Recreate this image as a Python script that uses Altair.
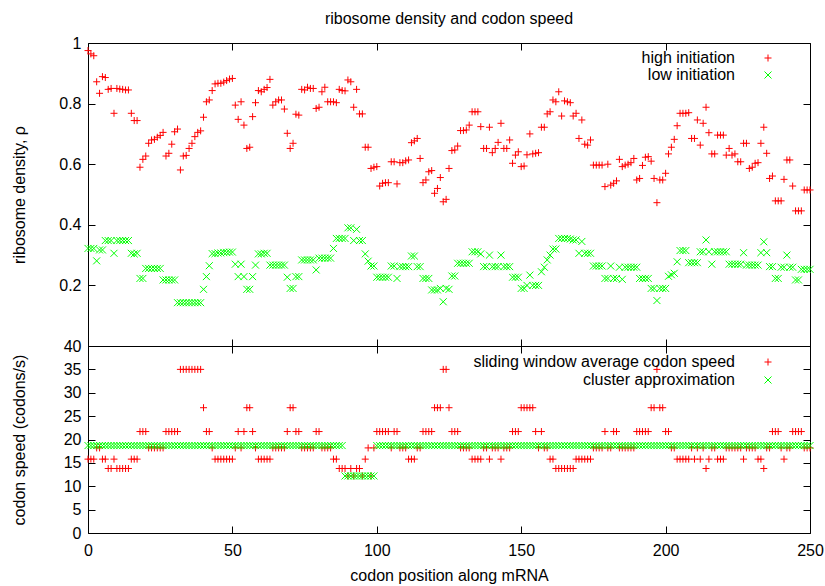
import altair as alt
import pandas as pd

FONT = "Liberation Sans"

# codon positions along the mRNA
codon = list(range(251))

# top panel: ribosome density
high_initiation = [
    0.975, 0.964, 0.958, 0.872, 0.834, 0.889, 0.886, 0.847, 0.850, 0.768,
    0.850, 0.848, 0.847, 0.845, 0.845, 0.768, 0.744, 0.744, 0.590, 0.616,
    0.627, 0.669, 0.680, 0.682, 0.689, 0.695, 0.705, 0.627, 0.636, 0.666,
    0.707, 0.716, 0.581, 0.627, 0.629, 0.652, 0.669, 0.691, 0.705, 0.710,
    0.755, 0.806, 0.812, 0.843, 0.865, 0.867, 0.867, 0.871, 0.876, 0.881,
    0.883, 0.795, 0.748, 0.806, 0.729, 0.652, 0.656, 0.757, 0.803, 0.843,
    0.839, 0.847, 0.853, 0.880, 0.795, 0.806, 0.812, 0.812, 0.782, 0.702,
    0.652, 0.669, 0.765, 0.762, 0.847, 0.845, 0.854, 0.850, 0.850, 0.784,
    0.788, 0.839, 0.854, 0.806, 0.806, 0.806, 0.803, 0.847, 0.843, 0.842,
    0.878, 0.872, 0.788, 0.847, 0.766, 0.766, 0.656, 0.656, 0.586, 0.590,
    0.592, 0.528, 0.537, 0.539, 0.539, 0.608, 0.608, 0.535, 0.605, 0.605,
    0.611, 0.614, 0.671, 0.677, 0.685, 0.619, 0.539, 0.548, 0.575, 0.579,
    0.504, 0.520, 0.556, 0.476, 0.484, 0.586, 0.645, 0.647, 0.660, 0.711,
    0.711, 0.713, 0.729, 0.773, 0.773, 0.773, 0.724, 0.652, 0.652, 0.722,
    0.638, 0.652, 0.672, 0.735, 0.652, 0.652, 0.680, 0.603, 0.630, 0.641,
    0.592, 0.594, 0.631, 0.700, 0.634, 0.636, 0.638, 0.722, 0.722, 0.766,
    0.773, 0.812, 0.806, 0.839, 0.759, 0.809, 0.806, 0.803, 0.759, 0.768,
    0.685, 0.746, 0.666, 0.663, 0.680, 0.597, 0.597, 0.597, 0.597, 0.526,
    0.600, 0.531, 0.537, 0.545, 0.616, 0.592, 0.597, 0.600, 0.605, 0.619,
    0.548, 0.553, 0.596, 0.623, 0.625, 0.610, 0.553, 0.473, 0.548, 0.548,
    0.570, 0.634, 0.656, 0.682, 0.727, 0.768, 0.768, 0.768, 0.770, 0.685,
    0.685, 0.746, 0.663, 0.735, 0.788, 0.704, 0.634, 0.634, 0.696, 0.696,
    0.696, 0.630, 0.652, 0.630, 0.634, 0.608, 0.608, 0.669, 0.669, 0.586,
    0.590, 0.603, 0.605, 0.669, 0.722, 0.636, 0.553, 0.561, 0.479, 0.479,
    0.479, 0.550, 0.614, 0.614, 0.528, 0.446, 0.446, 0.446, 0.515, 0.515,
    0.515,
]

low_initiation = [
    0.322, 0.322, 0.322, 0.281, 0.317, 0.317, 0.348, 0.348, 0.348, 0.306,
    0.348, 0.348, 0.348, 0.348, 0.348, 0.306, 0.304, 0.306, 0.223, 0.223,
    0.256, 0.256, 0.256, 0.256, 0.256, 0.256, 0.218, 0.218, 0.218, 0.218,
    0.218, 0.143, 0.143, 0.143, 0.143, 0.143, 0.143, 0.143, 0.143, 0.143,
    0.187, 0.229, 0.265, 0.305, 0.305, 0.307, 0.307, 0.309, 0.309, 0.310,
    0.310, 0.270, 0.229, 0.270, 0.229, 0.187, 0.187, 0.229, 0.267, 0.304,
    0.304, 0.306, 0.306, 0.267, 0.267, 0.267, 0.267, 0.267, 0.267, 0.227,
    0.190, 0.190, 0.229, 0.229, 0.284, 0.284, 0.284, 0.284, 0.284, 0.251,
    0.290, 0.290, 0.290, 0.290, 0.290, 0.322, 0.355, 0.355, 0.355, 0.355,
    0.390, 0.390, 0.348, 0.385, 0.348, 0.348, 0.304, 0.280, 0.264, 0.264,
    0.227, 0.227, 0.227, 0.227, 0.227, 0.264, 0.264, 0.223, 0.262, 0.262,
    0.262, 0.262, 0.297, 0.297, 0.262, 0.262, 0.223, 0.223, 0.223, 0.185,
    0.185, 0.185, 0.190, 0.146, 0.190, 0.187, 0.231, 0.231, 0.273, 0.273,
    0.273, 0.273, 0.273, 0.311, 0.311, 0.311, 0.304, 0.262, 0.262, 0.300,
    0.262, 0.262, 0.262, 0.300, 0.262, 0.262, 0.262, 0.227, 0.227, 0.227,
    0.190, 0.190, 0.200, 0.234, 0.200, 0.200, 0.200, 0.245, 0.260, 0.284,
    0.300, 0.320, 0.320, 0.355, 0.355, 0.355, 0.355, 0.353, 0.350, 0.350,
    0.306, 0.345, 0.306, 0.306, 0.306, 0.264, 0.264, 0.264, 0.264, 0.223,
    0.223, 0.264, 0.223, 0.223, 0.260, 0.220, 0.260, 0.260, 0.260, 0.260,
    0.260, 0.223, 0.223, 0.223, 0.223, 0.190, 0.190, 0.150, 0.190, 0.190,
    0.190, 0.230, 0.235, 0.240, 0.278, 0.315, 0.315, 0.315, 0.275, 0.275,
    0.275, 0.275, 0.311, 0.311, 0.350, 0.311, 0.270, 0.311, 0.311, 0.311,
    0.311, 0.311, 0.270, 0.270, 0.270, 0.270, 0.270, 0.308, 0.267, 0.267,
    0.267, 0.267, 0.267, 0.308, 0.344, 0.308, 0.262, 0.262, 0.223, 0.223,
    0.260, 0.260, 0.300, 0.260, 0.260, 0.218, 0.218, 0.253, 0.253, 0.253,
    0.253,
]

# bottom panel: codon speed (codons/s)
sliding_speed = [
    15.8, 15.8, 15.8, 18.2, 18.2, 15.8, 15.8, 13.8, 13.8, 15.8,
    13.8, 13.8, 13.8, 13.8, 13.8, 15.8, 15.8, 15.8, 21.7, 21.7,
    21.7, 18.2, 18.2, 18.2, 18.2, 18.2, 18.2, 21.7, 21.7, 21.7,
    21.7, 21.7, 35.0, 35.0, 35.0, 35.0, 35.0, 35.0, 35.0, 35.0,
    26.8, 21.7, 21.7, 18.2, 15.8, 15.8, 15.8, 15.8, 15.8, 15.8,
    15.8, 18.2, 21.7, 18.2, 21.7, 26.8, 26.8, 21.7, 18.2, 15.8,
    15.8, 15.8, 15.8, 15.8, 18.2, 18.2, 18.2, 18.2, 18.2, 21.7,
    26.8, 26.8, 21.7, 21.7, 18.2, 18.2, 18.2, 18.2, 18.2, 21.7,
    21.7, 18.2, 18.2, 18.2, 18.2, 15.8, 15.8, 13.8, 13.8, 13.8,
    12.2, 13.8, 12.2, 13.8, 13.8, 12.2, 15.8, 18.2, 12.2, 18.2,
    21.7, 21.7, 21.7, 21.7, 21.7, 18.2, 21.7, 21.7, 18.2, 18.2,
    18.2, 15.8, 15.8, 15.8, 18.2, 18.2, 21.7, 21.7, 21.7, 21.7,
    26.8, 26.8, 26.8, 35.0, 35.0, 26.8, 21.7, 21.7, 21.7, 18.2,
    18.2, 18.2, 18.2, 15.8, 15.8, 15.8, 15.8, 18.2, 18.2, 15.8,
    18.2, 18.2, 18.2, 15.8, 18.2, 18.2, 18.2, 21.7, 21.7, 21.7,
    26.8, 26.8, 26.8, 26.8, 26.8, 21.7, 18.2, 21.7, 18.2, 18.2,
    15.8, 15.8, 13.8, 13.8, 13.8, 13.8, 13.8, 13.8, 13.8, 15.8,
    15.8, 15.8, 15.8, 15.8, 15.8, 18.2, 18.2, 18.2, 18.2, 21.7,
    18.2, 18.2, 21.7, 21.7, 18.2, 18.2, 18.2, 18.2, 18.2, 18.2,
    21.7, 21.7, 21.7, 21.7, 21.7, 26.8, 26.8, 35.0, 26.8, 26.8,
    21.7, 21.7, 18.2, 18.2, 15.8, 15.8, 15.8, 15.8, 15.8, 18.2,
    15.8, 18.2, 15.8, 18.2, 13.8, 15.8, 18.2, 18.2, 15.8, 15.8,
    15.8, 18.2, 18.2, 18.2, 18.2, 18.2, 18.2, 15.8, 18.2, 18.2,
    18.2, 18.2, 15.8, 15.8, 13.8, 18.2, 18.2, 21.7, 21.7, 21.7,
    18.2, 15.8, 18.2, 18.2, 21.7, 21.7, 21.7, 21.7, 18.2, 18.2,
    18.2,
]

cluster_speed = [
    18.7, 18.7, 18.7, 18.7, 18.7, 18.7, 18.7, 18.7, 18.7, 18.7,
    18.7, 18.7, 18.7, 18.7, 18.7, 18.7, 18.7, 18.7, 18.7, 18.7,
    18.7, 18.7, 18.7, 18.7, 18.7, 18.7, 18.7, 18.7, 18.7, 18.7,
    18.7, 18.7, 18.7, 18.7, 18.7, 18.7, 18.7, 18.7, 18.7, 18.7,
    18.7, 18.7, 18.7, 18.7, 18.7, 18.7, 18.7, 18.7, 18.7, 18.7,
    18.7, 18.7, 18.7, 18.7, 18.7, 18.7, 18.7, 18.7, 18.7, 18.7,
    18.7, 18.7, 18.7, 18.7, 18.7, 18.7, 18.7, 18.7, 18.7, 18.7,
    18.7, 18.7, 18.7, 18.7, 18.7, 18.7, 18.7, 18.7, 18.7, 18.7,
    18.7, 18.7, 18.7, 18.7, 18.7, 18.7, 18.7, 18.7, 18.7, 12.2,
    12.2, 12.2, 12.2, 12.2, 12.2, 12.2, 12.2, 12.2, 12.2, 12.2,
    18.7, 18.7, 18.7, 18.7, 18.7, 18.7, 18.7, 18.7, 18.7, 18.7,
    18.7, 18.7, 18.7, 18.7, 18.7, 18.7, 18.7, 18.7, 18.7, 18.7,
    18.7, 18.7, 18.7, 18.7, 18.7, 18.7, 18.7, 18.7, 18.7, 18.7,
    18.7, 18.7, 18.7, 18.7, 18.7, 18.7, 18.7, 18.7, 18.7, 18.7,
    18.7, 18.7, 18.7, 18.7, 18.7, 18.7, 18.7, 18.7, 18.7, 18.7,
    18.7, 18.7, 18.7, 18.7, 18.7, 18.7, 18.7, 18.7, 18.7, 18.7,
    18.7, 18.7, 18.7, 18.7, 18.7, 18.7, 18.7, 18.7, 18.7, 18.7,
    18.7, 18.7, 18.7, 18.7, 18.7, 18.7, 18.7, 18.7, 18.7, 18.7,
    18.7, 18.7, 18.7, 18.7, 18.7, 18.7, 18.7, 18.7, 18.7, 18.7,
    18.7, 18.7, 18.7, 18.7, 18.7, 18.7, 18.7, 18.7, 18.7, 18.7,
    18.7, 18.7, 18.7, 18.7, 18.7, 18.7, 18.7, 18.7, 18.7, 18.7,
    18.7, 18.7, 18.7, 18.7, 18.7, 18.7, 18.7, 18.7, 18.7, 18.7,
    18.7, 18.7, 18.7, 18.7, 18.7, 18.7, 18.7, 18.7, 18.7, 18.7,
    18.7, 18.7, 18.7, 18.7, 18.7, 18.7, 18.7, 18.7, 18.7, 18.7,
    18.7, 18.7, 18.7, 18.7, 18.7, 18.7, 18.7, 18.7, 18.7, 18.7,
    18.7,
]

for arr in (high_initiation, low_initiation, sliding_speed, cluster_speed):
    assert len(arr) == len(codon), len(arr)

top_series = ["high initiation", "low initiation"]
bottom_series = ["sliding window average codon speed", "cluster approximation"]

x_ticks = [0, 50, 100, 150, 200, 250]
rho_ticks = [0, 0.2, 0.4, 0.6, 0.8, 1]
speed_ticks = [0, 5, 10, 15, 20, 25, 30, 35, 40]

PLUS = "M-1,0L1,0M0,-1L0,1"
CROSS = "M-1,-1L1,1M-1,1L1,-1"
COLORS = ["#ff0000", "#00ff00"]

W, H_TOP, H_BOT = 722, 303, 187
TICK = 7
MSIZE = 49


def axis(orient, values, **extra):
    kw = dict(orient=orient, values=values, domain=False, grid=False, ticks=True,
              tickSize=TICK, tickColor="black", tickWidth=1, offset=-TICK,
              labels=False, labelFont=FONT, labelFontSize=16, labelColor="black",
              labelFlush=False, labelOverlap=False, labelPadding=7,
              titleFont=FONT, titleFontSize=16, titleFontWeight="normal",
              titleColor="black", title=None)
    kw.update(extra)
    return alt.Axis(**kw)


def legend(y, row_pad):
    return alt.Legend(title=None, orient="none", legendX=672, legendY=y,
                      direction="vertical", labelAlign="right",
                      labelOffset={"expr": "-41"},
                      labelFont=FONT, labelFontSize=16, labelColor="black",
                      labelLimit=400, symbolSize=MSIZE, symbolStrokeWidth=1,
                      rowPadding=row_pad, padding=0)


xs = alt.Scale(domain=[0, 250], nice=False, zero=False)

# ---------- top panel ----------
top_df = pd.DataFrame({
    "codon": codon + codon,
    "value": high_initiation + low_initiation,
    "series": [top_series[0]] * len(codon) + [top_series[1]] * len(codon),
})
ys_top = alt.Scale(domain=[0, 1], nice=False, zero=False)
lg_top = legend(7, 1)

top_pts = alt.Chart(top_df).mark_point(filled=False, size=MSIZE, strokeWidth=1, opacity=1).encode(
    x=alt.X("codon:Q", scale=xs, axis=axis("bottom", x_ticks)),
    y=alt.Y("value:Q", scale=ys_top,
            axis=axis("left", rho_ticks, labels=True, title="ribosome density, ρ",
                      labelExpr="datum.value == 0 ? '' : format(datum.value, '~g')",
                      titleX=-76, titleBaseline="middle")),
    color=alt.Color("series:N", scale=alt.Scale(domain=top_series, range=COLORS), legend=lg_top),
    shape=alt.Shape("series:N", scale=alt.Scale(domain=top_series, range=[PLUS, CROSS]), legend=lg_top),
)
top_mirror = alt.Chart(top_df).mark_point(opacity=0).encode(
    x=alt.X("codon:Q", scale=xs, axis=axis("top", x_ticks)),
    y=alt.Y("value:Q", scale=ys_top, axis=axis("right", rho_ticks)),
)
top = alt.layer(top_pts, top_mirror).resolve_axis(x="independent", y="independent").properties(
    width=W, height=H_TOP,
    title=alt.TitleParams("ribosome density and codon speed", anchor="middle", frame="group",
                          font=FONT, fontSize=16, fontWeight="normal", color="black", offset=8),
)

# ---------- bottom panel ----------
bot_df = pd.DataFrame({
    "codon": codon + codon,
    "value": sliding_speed + cluster_speed,
    "series": [bottom_series[0]] * len(codon) + [bottom_series[1]] * len(codon),
})
ys_bot = alt.Scale(domain=[0, 40], nice=False, zero=False)
lg_bot = legend(8, 2)

bot_pts = alt.Chart(bot_df).mark_point(filled=False, size=MSIZE, strokeWidth=1, opacity=1).encode(
    x=alt.X("codon:Q", scale=xs,
            axis=axis("bottom", x_ticks, labels=True, labelPadding=9,
                      title="codon position along mRNA", titlePadding=9)),
    y=alt.Y("value:Q", scale=ys_bot,
            axis=axis("left", speed_ticks, labels=True, title="codon speed (codons/s)",
                      titleX=-76, titleBaseline="middle")),
    color=alt.Color("series:N", scale=alt.Scale(domain=bottom_series, range=COLORS), legend=lg_bot),
    shape=alt.Shape("series:N", scale=alt.Scale(domain=bottom_series, range=[PLUS, CROSS]), legend=lg_bot),
)
bot_mirror = alt.Chart(bot_df).mark_point(opacity=0).encode(
    x=alt.X("codon:Q", scale=xs, axis=axis("top", x_ticks)),
    y=alt.Y("value:Q", scale=ys_bot, axis=axis("right", speed_ticks)),
)
bottom = alt.layer(bot_pts, bot_mirror).resolve_axis(x="independent", y="independent").properties(
    width=W, height=H_BOT,
)

chart = alt.vconcat(top, bottom, spacing=0, bounds="flush").resolve_scale(
    x="independent", y="independent", color="independent", shape="independent"
).configure_view(stroke="black", strokeWidth=1).properties(
    padding={"left": 10, "top": 10, "right": 0, "bottom": 0}, background="white"
)

chart.save("out.html", embed_options={"renderer": "svg", "actions": False})
